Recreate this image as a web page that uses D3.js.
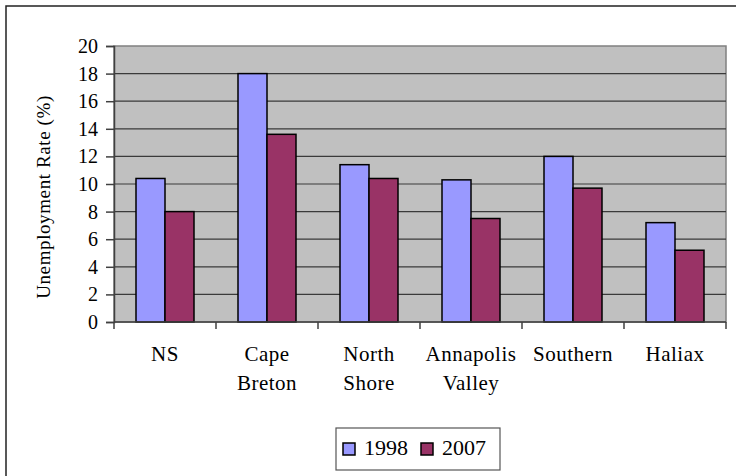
<!DOCTYPE html>
<html>
<head>
<meta charset="utf-8">
<script src="https://cdn.jsdelivr.net/npm/d3@7"></script>
<style>
  body { margin: 0; background: #fff; }
  text { font-family: "Liberation Serif", "Times New Roman", serif; fill: #000; }
</style>
</head>
<body>
<div id="chart"></div>
<script>
// data
var regions = [["NS"], ["Cape", "Breton"], ["North", "Shore"], ["Annapolis", "Valley"], ["Southern"], ["Haliax"]]
var years = ["1998", "2007"]
var rate1998 = [10.4, 18.0, 11.4, 10.3, 12.0, 7.2]
var rate2007 = [8.0, 13.6, 10.4, 7.5, 9.7, 5.2]
var yTicks = [0, 2, 4, 6, 8, 10, 12, 14, 16, 18, 20]

var colors = {"1998": "#9999FF", "2007": "#993366"}

var width = 736, height = 476
var plot = {left: 114, right: 726, top: 46, bottom: 322}

var svg = d3.select("#chart").append("svg")
  .attr("width", width)
  .attr("height", height)

// outer chart border (runs off the picture on right/bottom)
svg.append("rect")
  .attr("x", 6).attr("y", 6)
  .attr("width", 760).attr("height", 500)
  .attr("fill", "#fff")
  .attr("stroke", "#222")
  .attr("stroke-width", 1.5)

var x = d3.scaleBand()
  .domain(d3.range(regions.length))
  .range([plot.left, plot.right])

var xs = d3.scaleBand()
  .domain(years)
  .range([22, 80])

var y = d3.scaleLinear()
  .domain([0, 20])
  .range([plot.bottom, plot.top])

// plot area
svg.append("rect")
  .attr("x", plot.left).attr("y", plot.top)
  .attr("width", plot.right - plot.left)
  .attr("height", plot.bottom - plot.top)
  .attr("fill", "#C0C0C0")
  .attr("stroke", "#808080")
  .attr("stroke-width", 1.5)

// gridlines
svg.append("g")
  .selectAll("line")
  .data(yTicks.filter(function(d) { return d > 0 && d < 20 }))
  .enter().append("line")
  .attr("x1", plot.left).attr("x2", plot.right)
  .attr("y1", function(d) { return y(d) })
  .attr("y2", function(d) { return y(d) })
  .attr("stroke", "#3a3a3a")
  .attr("stroke-width", 1.2)

// bars
var groups = svg.append("g")
  .selectAll("g")
  .data(regions)
  .enter().append("g")
  .attr("transform", function(d, i) { return "translate(" + x(i) + ",0)" })

groups.selectAll("rect")
  .data(function(d, i) { return [{k: "1998", v: rate1998[i]}, {k: "2007", v: rate2007[i]}] })
  .enter().append("rect")
  .attr("x", function(d) { return xs(d.k) })
  .attr("width", xs.bandwidth())
  .attr("y", function(d) { return y(d.v) })
  .attr("height", function(d) { return y(0) - y(d.v) })
  .attr("fill", function(d) { return colors[d.k] })
  .attr("stroke", "#000")
  .attr("stroke-width", 1.5)

// y axis
var yAxis = d3.axisLeft(y).tickValues(yTicks).tickSize(8).tickPadding(8)
var gy = svg.append("g")
  .attr("transform", "translate(" + plot.left + ",0)")
  .call(yAxis)
gy.select(".domain").attr("stroke", "#404040").attr("stroke-width", 1.5)
gy.selectAll(".tick line").attr("stroke", "#404040").attr("stroke-width", 1.5)
gy.selectAll("text")
  .style("font-family", "Liberation Serif")
  .style("font-size", "20px")
  .attr("fill", "#000")

// x axis line and ticks at category boundaries
svg.append("line")
  .attr("x1", plot.left).attr("x2", plot.right)
  .attr("y1", plot.bottom).attr("y2", plot.bottom)
  .attr("stroke", "#404040").attr("stroke-width", 1.5)

svg.append("g")
  .selectAll("line")
  .data(d3.range(regions.length + 1))
  .enter().append("line")
  .attr("x1", function(i) { return plot.left + i * x.bandwidth() })
  .attr("x2", function(i) { return plot.left + i * x.bandwidth() })
  .attr("y1", plot.bottom).attr("y2", plot.bottom + 7)
  .attr("stroke", "#404040").attr("stroke-width", 1.5)

// category labels
var labels = svg.append("g")
  .selectAll("text")
  .data(regions)
  .enter().append("text")
  .attr("text-anchor", "middle")
  .style("font-size", "21px")
  .style("letter-spacing", "0.5px")

labels.selectAll("tspan")
  .data(function(d, i) { return d.map(function(s) { return {s: s, i: i} }) })
  .enter().append("tspan")
  .attr("x", function(d) { return x(d.i) + x.bandwidth() / 2 })
  .attr("y", function(d, j) { return 361 + j * 29 })
  .text(function(d) { return d.s })

// y axis title
svg.append("text")
  .attr("transform", "translate(50,197) rotate(-90)")
  .attr("text-anchor", "middle")
  .style("font-size", "19px")
  .style("letter-spacing", "0.6px")
  .text("Unemployment Rate (%)")

// legend
var legend = svg.append("g")
legend.append("rect")
  .attr("x", 336).attr("y", 428)
  .attr("width", 164).attr("height", 42)
  .attr("fill", "#fff")
  .attr("stroke", "#555")
  .attr("stroke-width", 1.2)

var items = legend.selectAll("g")
  .data(years)
  .enter().append("g")
  .attr("transform", function(d, i) { return "translate(" + (343 + i * 78) + ",0)" })

items.append("rect")
  .attr("x", 0).attr("y", 443)
  .attr("width", 12).attr("height", 12)
  .attr("fill", function(d) { return colors[d] })
  .attr("stroke", "#000")
  .attr("stroke-width", 1.5)

items.append("text")
  .attr("x", 21).attr("y", 455)
  .style("font-size", "22px")
  .text(function(d) { return d })
</script>
</body>
</html>
